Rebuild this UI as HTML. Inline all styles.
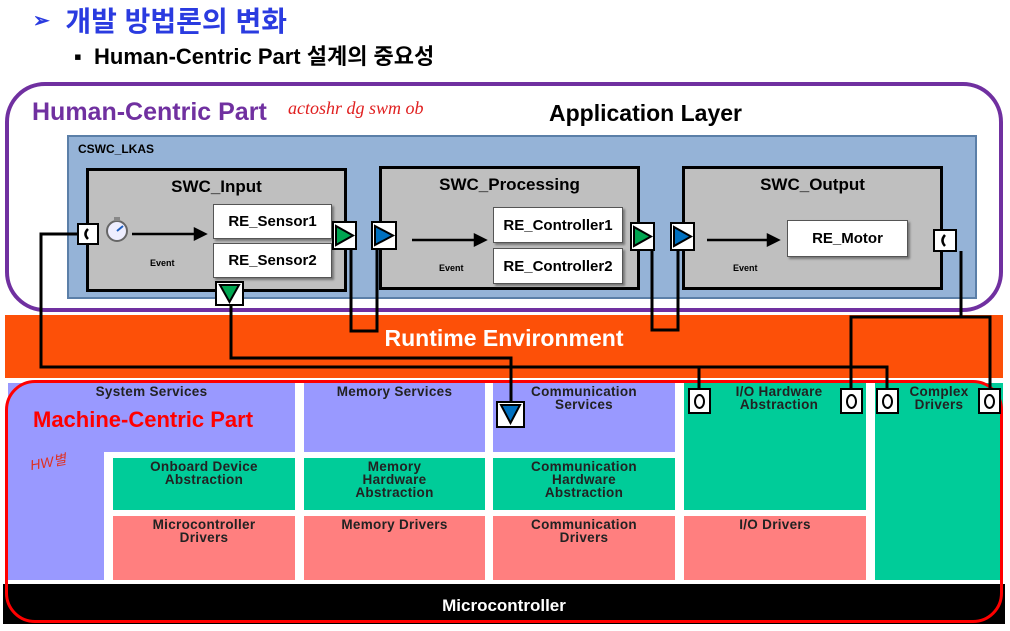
<!DOCTYPE html>
<html><head><meta charset="utf-8"><style>
*{margin:0;padding:0;box-sizing:border-box}
body{width:1010px;height:631px;background:#fff;position:relative;overflow:hidden;font-family:"Liberation Sans","Noto Sans CJK KR",sans-serif}
.a{position:absolute}
.swc{position:absolute;background:#bfbfbf;border:3px solid #000}
.swc .t{position:absolute;left:0;right:0;top:6px;text-align:center;font-weight:bold;font-size:17px;color:#000}
.re{position:absolute;background:#fff;border:1px solid #555;box-shadow:2px 2px 2px #777;font-weight:bold;font-size:15px;display:flex;align-items:center;justify-content:center}
.ev{position:absolute;font-size:9px;font-weight:bold}
.blk{position:absolute;font-weight:bold;font-size:13.5px;letter-spacing:0.3px;text-align:center;line-height:13px;padding-top:2px;color:#222}
.lav{background:#9999ff}.grn{background:#00cc99}.pnk{background:#ff7f7f}
.o{position:absolute;background:#fff;border:2px solid #000;width:23px;height:26px;display:flex;align-items:center;justify-content:center}
.o i{display:block;width:11px;height:15px;border:2.5px solid #000;border-radius:50%}
</style></head><body>
<div class="a" style="left:33px;top:0px;font-size:28px;font-weight:bold;color:#2a3be0"><span style="font-size:20px;position:relative;top:-4px">➢</span>&nbsp; 개발 방법론의 변화</div>
<div class="a" style="left:74px;top:39px;font-size:22px;font-weight:bold;color:#000">▪&nbsp; Human-Centric Part 설계의 중요성</div>

<div class="a lav" style="left:8px;top:383px;width:287px;height:69px"></div>
<div class="a lav" style="left:8px;top:452px;width:96px;height:128px"></div>
<div class="blk" style="left:8px;top:383px;width:287px">System Services</div>
<div class="blk lav" style="left:304px;top:383px;width:181px;height:69px">Memory Services</div>
<div class="blk lav" style="left:493px;top:383px;width:182px;height:69px">Communication<br>Services</div>
<div class="blk grn" style="left:684px;top:383px;width:182px;height:127px">&nbsp;&nbsp;I/O Hardware<br>&nbsp;&nbsp;Abstraction</div>
<div class="blk grn" style="left:875px;top:383px;width:128px;height:197px">Complex<br>Drivers</div>
<div class="blk grn" style="left:113px;top:458px;width:182px;height:52px">Onboard Device<br>Abstraction</div>
<div class="blk grn" style="left:304px;top:458px;width:181px;height:52px">Memory<br>Hardware<br>Abstraction</div>
<div class="blk grn" style="left:493px;top:458px;width:182px;height:52px">Communication<br>Hardware<br>Abstraction</div>
<div class="blk pnk" style="left:113px;top:516px;width:182px;height:64px">Microcontroller<br>Drivers</div>
<div class="blk pnk" style="left:304px;top:516px;width:181px;height:64px">Memory Drivers</div>
<div class="blk pnk" style="left:493px;top:516px;width:182px;height:64px">Communication<br>Drivers</div>
<div class="blk pnk" style="left:684px;top:516px;width:182px;height:64px">I/O Drivers</div>
<div class="a" style="left:3px;top:584px;width:1002px;height:40px;background:#000;color:#fff;font-weight:bold;font-size:17px;text-align:center;line-height:44px">Microcontroller</div>
<div class="a" style="left:5px;top:380px;width:998px;height:243px;border:3px solid #f00;border-radius:30px"></div>
<div class="a" style="left:33px;top:407px;color:#f00;font-size:22px;font-weight:bold">Machine-Centric Part</div>
<div class="a" style="left:30px;top:452px;color:#e03020;font-size:14px;font-style:italic;transform:rotate(-10deg)">HW별</div>

<div class="a" style="left:5px;top:315px;width:998px;height:63px;background:#fd5008;color:#fff;font-weight:bold;font-size:23px;text-align:center;line-height:46px">Runtime Environment</div>

<div class="a" style="left:5px;top:82px;width:998px;height:230px;border:4px solid #7030a0;border-radius:40px"></div>
<div class="a" style="left:32px;top:98px;color:#7030a0;font-size:25px;font-weight:bold">Human-Centric Part</div>
<div class="a" style="left:288px;top:98px;color:#e02020;font-size:18px;font-family:'Liberation Serif',serif;font-style:italic">actoshr dg swm ob</div>
<div class="a" style="left:549px;top:100px;font-size:23px;font-weight:bold">Application Layer</div>
<div class="a" style="left:67px;top:135px;width:910px;height:164px;background:#95b3d7;border:2px solid #5b7fa8"></div>
<div class="a" style="left:78px;top:142px;font-size:12px;font-weight:bold">CSWC_LKAS</div>

<div class="swc" style="left:86px;top:168px;width:261px;height:124px"><div class="t">SWC_Input</div></div>
<div class="swc" style="left:379px;top:166px;width:261px;height:124px"><div class="t">SWC_Processing</div></div>
<div class="swc" style="left:682px;top:166px;width:261px;height:124px"><div class="t">SWC_Output</div></div>
<div class="re" style="left:213px;top:204px;width:119px;height:35px">RE_Sensor1</div>
<div class="re" style="left:213px;top:243px;width:119px;height:35px">RE_Sensor2</div>
<div class="re" style="left:493px;top:207px;width:130px;height:36px">RE_Controller1</div>
<div class="re" style="left:493px;top:248px;width:130px;height:36px">RE_Controller2</div>
<div class="re" style="left:787px;top:220px;width:121px;height:37px">RE_Motor</div>
<div class="ev" style="left:150px;top:258px">Event</div>
<div class="ev" style="left:439px;top:263px">Event</div>
<div class="ev" style="left:733px;top:263px">Event</div>
<svg class="a" style="left:104px;top:214px" width="26" height="30"><circle cx="13" cy="17" r="10" fill="#eef" stroke="#666" stroke-width="2"/><rect x="10" y="3" width="6" height="4" fill="#888"/><line x1="13" y1="17" x2="19" y2="12" stroke="#2060c0" stroke-width="2"/></svg>

<svg class="a" style="left:0;top:0" width="1010" height="631">
<g fill="none" stroke="#000" stroke-width="3">
<polyline points="78,234 41,234 41,367 887,367 887,390"/>
<line x1="699" y1="367" x2="699" y2="390"/>
<polyline points="231,305 231,358 511,358 511,402"/>
<polyline points="351,249 351,331 377,331 377,249"/>
<polyline points="652,250 652,330 678,330 678,250"/>
<polyline points="961,251 961,317"/>
<polyline points="851,390 851,317 990,317 990,390"/>
</g>
<g stroke="#000" stroke-width="2.5">
<line x1="132" y1="234" x2="195" y2="234"/><polygon points="195,229 205,234 195,239" fill="#000"/>
<line x1="412" y1="240" x2="475" y2="240"/><polygon points="475,235 485,240 475,245" fill="#000"/>
<line x1="707" y1="240" x2="768" y2="240"/><polygon points="768,235 778,240 768,245" fill="#000"/>
</g>
<g stroke="#000" stroke-width="2">
<rect x="78" y="224" width="20" height="20" fill="#fff"/>
<rect x="333" y="222" width="23" height="27" fill="#fff"/><polygon points="336,226 353,235.5 336,245" fill="#00a651"/>
<rect x="372" y="222" width="24" height="27" fill="#fff"/><polygon points="375,226 393,235.5 375,245" fill="#0070c0"/>
<rect x="631" y="223" width="23" height="27" fill="#fff"/><polygon points="634,227 651,236.5 634,246" fill="#00a651"/>
<rect x="671" y="223" width="23" height="27" fill="#fff"/><polygon points="674,227 691,236.5 674,246" fill="#0070c0"/>
<rect x="934" y="230" width="22" height="21" fill="#fff"/>
<rect x="216" y="282" width="27" height="23" fill="#fff"/><polygon points="220,285 239,285 229.5,302" fill="#00a651"/>
<rect x="497" y="402" width="27" height="25" fill="#fff"/><polygon points="501,405 520,405 510.5,423" fill="#0070c0"/>
</g>
<path d="M88,229 Q83,234 88,239" stroke="#000" stroke-width="2.5" fill="none"/>
<path d="M945,235 Q940,240.5 945,246" stroke="#000" stroke-width="2.5" fill="none"/>
</svg>
<div class="o" style="left:688px;top:388px"><i></i></div>
<div class="o" style="left:840px;top:388px"><i></i></div>
<div class="o" style="left:876px;top:388px"><i></i></div>
<div class="o" style="left:978px;top:388px"><i></i></div>
</body></html>
